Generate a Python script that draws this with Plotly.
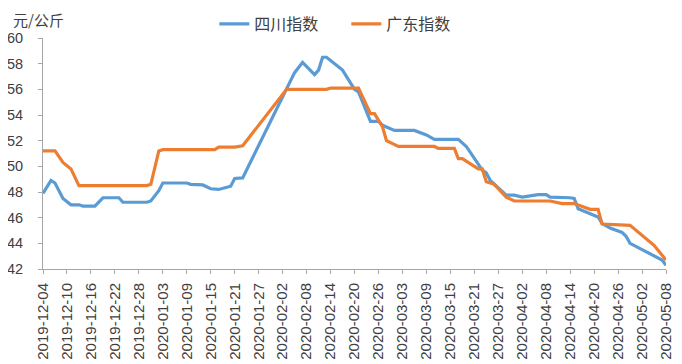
import plotly.graph_objects as go

sichuan_dates = ["2019-12-04", "2019-12-06", "2019-12-07", "2019-12-09", "2019-12-11", "2019-12-13",
                 "2019-12-14", "2019-12-17", "2019-12-19", "2019-12-23", "2019-12-24", "2019-12-30",
                 "2019-12-31", "2020-01-02", "2020-01-03", "2020-01-09", "2020-01-10", "2020-01-13",
                 "2020-01-15", "2020-01-17", "2020-01-20", "2020-01-21", "2020-01-23", "2020-02-05",
                 "2020-02-07", "2020-02-10", "2020-02-11", "2020-02-12", "2020-02-13", "2020-02-17",
                 "2020-02-20", "2020-02-21", "2020-02-24", "2020-02-26", "2020-02-27", "2020-03-01",
                 "2020-03-06", "2020-03-09", "2020-03-11", "2020-03-17", "2020-03-19", "2020-03-23",
                 "2020-03-24", "2020-03-25", "2020-03-29", "2020-03-31", "2020-04-02", "2020-04-06",
                 "2020-04-08", "2020-04-09", "2020-04-14", "2020-04-15", "2020-04-16", "2020-04-21",
                 "2020-04-22", "2020-04-24", "2020-04-27", "2020-04-28", "2020-04-29", "2020-05-07",
                 "2020-05-08"]
sichuan_values = [47.9, 48.9, 48.7, 47.5, 47.0, 47.0,
                  46.9, 46.9, 47.55, 47.55, 47.2, 47.2,
                  47.3, 48.1, 48.7, 48.7, 48.6, 48.55,
                  48.25, 48.2, 48.45, 49.05, 49.1, 57.3,
                  58.1, 57.15, 57.5, 58.5, 58.5, 57.5,
                  56.0, 55.8, 53.5, 53.5, 53.2, 52.8,
                  52.8, 52.45, 52.1, 52.1, 51.55, 49.7,
                  49.5, 48.9, 47.75, 47.75, 47.6, 47.8,
                  47.8, 47.6, 47.55, 47.5, 46.7, 46.05,
                  45.55, 45.2, 44.85, 44.55, 44.0, 42.7,
                  42.3]

guangdong_dates = ["2019-12-04", "2019-12-07", "2019-12-09", "2019-12-11", "2019-12-13", "2019-12-30",
                   "2019-12-31", "2020-01-02", "2020-01-03", "2020-01-16", "2020-01-17", "2020-01-21",
                   "2020-01-23", "2020-02-03", "2020-02-13", "2020-02-14", "2020-02-21", "2020-02-24",
                   "2020-02-25", "2020-02-27", "2020-02-28", "2020-03-02", "2020-03-11", "2020-03-12",
                   "2020-03-16", "2020-03-17", "2020-03-18", "2020-03-22", "2020-03-23", "2020-03-24",
                   "2020-03-26", "2020-03-29", "2020-03-31", "2020-04-09", "2020-04-12", "2020-04-15",
                   "2020-04-19", "2020-04-21", "2020-04-22", "2020-04-29", "2020-05-05", "2020-05-08"]
guangdong_values = [51.2, 51.2, 50.3, 49.8, 48.5, 48.5,
                    48.6, 51.2, 51.3, 51.3, 51.5, 51.5,
                    51.6, 56.0, 56.0, 56.1, 56.1, 54.1,
                    54.1, 53.1, 52.0, 51.55, 51.55, 51.4,
                    51.4, 50.6, 50.6, 49.8, 49.8, 48.8,
                    48.6, 47.6, 47.3, 47.3, 47.1, 47.1,
                    46.65, 46.65, 45.5, 45.4, 43.85, 42.7]

series_names = ["四川指数", "广东指数"]
y_ticks = [42, 44, 46, 48, 50, 52, 54, 56, 58, 60]

num_font = "Liberation Sans, Arial, sans-serif"
cjk_font = "Noto Sans CJK SC, sans-serif"

fig = go.Figure()
fig.add_trace(go.Scatter(x=sichuan_dates, y=sichuan_values, mode="lines", name=series_names[0],
                         line=dict(color="#5B9BD5", width=3.2)))
fig.add_trace(go.Scatter(x=guangdong_dates, y=guangdong_values, mode="lines", name=series_names[1],
                         line=dict(color="#ED7D31", width=3.2)))

fig.update_layout(
    width=674, height=356,
    margin=dict(l=35, r=16, t=30, b=95, autoexpand=False),
    paper_bgcolor="white", plot_bgcolor="white",
    showlegend=True,
    legend=dict(orientation="h", x=0.275, xanchor="left", y=1.061, yanchor="middle",
                font=dict(family=cjk_font, size=16, color="#404040"),
                itemwidth=30, entrywidth=87, tracegroupgap=0, bgcolor="rgba(0,0,0,0)"),
    xaxis=dict(type="date", range=["2019-12-04", "2020-05-08"],
               tick0="2019-12-04", dtick=6 * 86400000, tickformat="%Y-%m-%d",
               tickangle=-90, showline=True, linecolor="#A6A6A6", linewidth=1,
               ticks="outside", ticklen=4, tickcolor="#A6A6A6",
               showgrid=False, zeroline=False, automargin=False, ticklabelstandoff=3,
               tickfont=dict(family=num_font, size=15, color="#404040")),
    yaxis=dict(range=[42, 60], tickvals=y_ticks, showline=True, linecolor="#A6A6A6", linewidth=1,
               ticks="outside", ticklen=4, tickcolor="#A6A6A6",
               showgrid=False, zeroline=False, automargin=False, ticklabelstandoff=12,
               tickfont=dict(family=num_font, size=14.5, color="#404040")),
    annotations=[dict(text="元/公斤", xref="paper", yref="paper", x=-0.049, y=1.1299,
                      xanchor="left", yanchor="top", showarrow=False, borderpad=0,
                      font=dict(family=cjk_font, size=15, color="#404040"))],
)

fig.write_html("out.html")
